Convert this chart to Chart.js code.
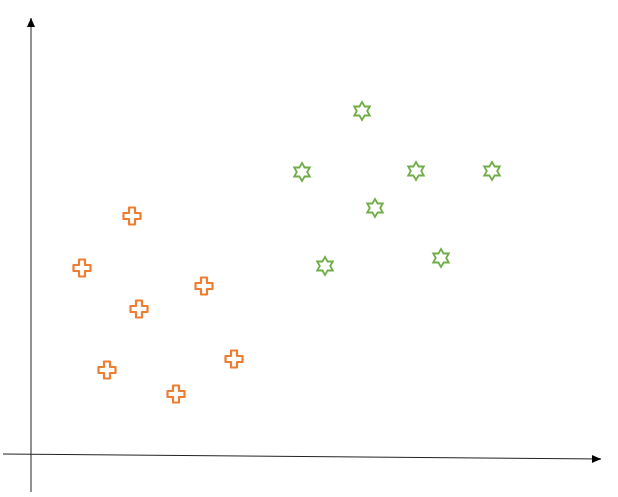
<!DOCTYPE html>
<html>
<head>
<meta charset="utf-8">
<script src="https://cdn.jsdelivr.net/npm/chart.js@4/dist/chart.umd.min.js"></script>
<style>
  html, body { margin: 0; padding: 0; background: #fff; }
  canvas { display: block; }
</style>
</head>
<body>
<canvas id="myChart" width="618" height="497"></canvas>
<script>
"use strict";

//--------------------DATA

// orange group (crosses)
let groupAX = [10.1, 5.1, 10.8, 17.3, 7.6, 14.5, 20.3];
let groupAY = [23.9, 18.7, 14.6, 16.9, 8.5, 6.1, 9.6];

// green group (stars)
let groupBX = [33.1, 27.1, 38.5, 46.1, 34.4, 29.4, 41.0];
let groupBY = [34.4, 28.3, 28.4, 28.4, 24.7, 18.9, 19.7];

// axis extents (data units)
let xAxisFrom = [-2.8, 0.1];
let xAxisTo = [57.0, -0.4];
let yAxisFrom = [0, -3.7];
let yAxisTo = [0, 43.7];

//--------------------MARKERS

function crossMarker(color) {
  let c = document.createElement("canvas");
  c.width = 22;
  c.height = 22;
  let g = c.getContext("2d");
  let h = 3, b = 8.5;
  g.translate(11, 11);
  g.beginPath();
  g.moveTo(-h, -b);
  g.lineTo(h, -b);
  g.lineTo(h, -h);
  g.lineTo(b, -h);
  g.lineTo(b, h);
  g.lineTo(h, h);
  g.lineTo(h, b);
  g.lineTo(-h, b);
  g.lineTo(-h, h);
  g.lineTo(-b, h);
  g.lineTo(-b, -h);
  g.lineTo(-h, -h);
  g.closePath();
  g.strokeStyle = color;
  g.lineWidth = 2.2;
  g.lineJoin = "round";
  g.stroke();
  return c;
}

function starMarker(color) {
  let c = document.createElement("canvas");
  c.width = 22;
  c.height = 22;
  let g = c.getContext("2d");
  g.translate(11, 11);
  let outer = 9, inner = 5.2;
  g.beginPath();
  for (let i = 0; i < 12; i++) {
    let r = i % 2 === 0 ? outer : inner;
    let ang = -Math.PI / 2 + i * Math.PI / 6;
    let px = r * Math.cos(ang), py = r * Math.sin(ang);
    if (i === 0) g.moveTo(px, py);
    else g.lineTo(px, py);
  }
  g.closePath();
  g.strokeStyle = color;
  g.lineWidth = 1.8;
  g.stroke();
  return c;
}

function toPoints(xs, ys) {
  let pts = [];
  for (let i = 0; i < xs.length; i++) {
    pts.push({ x: xs[i], y: ys[i] });
  }
  return pts;
}

//--------------------AXES PLUGIN

let arrowAxes = {
  id: "arrowAxes",
  afterDraw(chart) {
    let ctx = chart.ctx;
    let sx = chart.scales.x, sy = chart.scales.y;
    function line(from, to) {
      let x1 = sx.getPixelForValue(from[0]), y1 = sy.getPixelForValue(from[1]);
      let x2 = sx.getPixelForValue(to[0]), y2 = sy.getPixelForValue(to[1]);
      ctx.save();
      ctx.strokeStyle = "#222";
      ctx.lineWidth = 1;
      ctx.beginPath();
      ctx.moveTo(x1, y1);
      ctx.lineTo(x2, y2);
      ctx.stroke();
      // arrow head
      let ang = Math.atan2(y2 - y1, x2 - x1);
      let len = 9, half = 4;
      ctx.translate(x2, y2);
      ctx.rotate(ang);
      ctx.fillStyle = "#000";
      ctx.beginPath();
      ctx.moveTo(0, 0);
      ctx.lineTo(-len, -half);
      ctx.lineTo(-len, half);
      ctx.closePath();
      ctx.fill();
      ctx.restore();
    }
    line(xAxisFrom, xAxisTo);
    line(yAxisFrom, yAxisTo);
  },
};

//--------------------CHART

const ctx = document.getElementById("myChart").getContext("2d");
const myChart = new Chart(ctx, {
  type: "scatter",
  data: {
    datasets: [
      {
        label: "A",
        data: toPoints(groupAX, groupAY),
        pointStyle: crossMarker("#ED7D31"),
        pointRadius: 9,
      },
      {
        label: "B",
        data: toPoints(groupBX, groupBY),
        pointStyle: starMarker("#70AD47"),
        pointRadius: 9,
      },
    ],
  },
  options: {
    responsive: false,
    animation: false,
    layout: { padding: 0, autoPadding: false },
    plugins: {
      legend: { display: false },
      tooltip: { enabled: false },
    },
    scales: {
      x: { type: "linear", display: false, min: -3.1, max: 58.7 },
      y: { type: "linear", display: false, min: -4.2, max: 45.5 },
    },
  },
  plugins: [arrowAxes],
});
</script>
</body>
</html>
